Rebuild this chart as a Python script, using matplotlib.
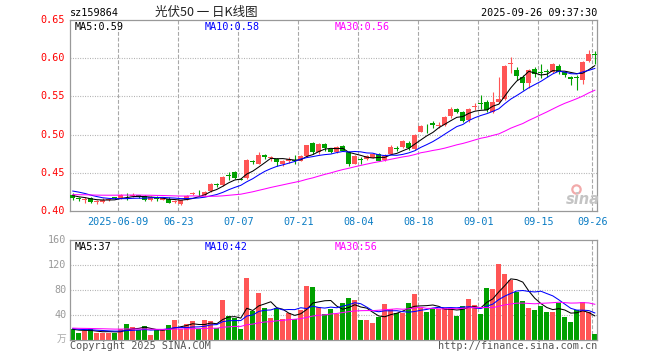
import matplotlib
matplotlib.use('Agg')
import matplotlib.pyplot as plt
import matplotlib.transforms as mtrans
import numpy as np
import pandas as pd

# ---------------- data ----------------
code = 'sz159864'
title = '光伏50 一 日K线图'
stamp = '2025-09-26 09:37:30'

dates = [d for d in pd.bdate_range('2025-05-27', '2025-09-26')
         if d.strftime('%Y-%m-%d') != '2025-06-02']

open_ = [0.421, 0.417, 0.415, 0.417, 0.412, 0.412, 0.415, 0.418, 0.417, 0.420,
         0.419, 0.421, 0.420, 0.415, 0.417, 0.415, 0.416, 0.412, 0.409, 0.415,
         0.422, 0.424, 0.421, 0.426, 0.435, 0.434, 0.447, 0.451, 0.442, 0.443,
         0.465, 0.462, 0.473, 0.469, 0.468, 0.461, 0.465, 0.467, 0.466, 0.472,
         0.489, 0.477, 0.488, 0.481, 0.477, 0.485, 0.477, 0.462, 0.468, 0.468,
         0.470, 0.475, 0.467, 0.475, 0.482, 0.484, 0.489, 0.481, 0.504, 0.509,
         0.515, 0.511, 0.512, 0.524, 0.534, 0.530, 0.519, 0.536, 0.541, 0.543,
         0.530, 0.543, 0.547, 0.592, 0.585, 0.576, 0.568, 0.586, 0.582, 0.583,
         0.582, 0.590, 0.582, 0.576, 0.575, 0.572, 0.596, 0.605]
high = [0.423, 0.418, 0.418, 0.418, 0.414, 0.417, 0.417, 0.418, 0.422, 0.423,
        0.424, 0.421, 0.421, 0.419, 0.419, 0.418, 0.418, 0.414, 0.415, 0.421,
        0.425, 0.427, 0.426, 0.436, 0.436, 0.446, 0.451, 0.452, 0.443, 0.468,
        0.467, 0.477, 0.474, 0.472, 0.469, 0.467, 0.471, 0.473, 0.473, 0.487,
        0.490, 0.489, 0.489, 0.482, 0.485, 0.487, 0.478, 0.473, 0.471, 0.473,
        0.475, 0.476, 0.474, 0.486, 0.485, 0.493, 0.491, 0.501, 0.513, 0.514,
        0.518, 0.516, 0.525, 0.536, 0.535, 0.531, 0.535, 0.541, 0.552, 0.545,
        0.556, 0.575, 0.591, 0.602, 0.588, 0.578, 0.586, 0.589, 0.593, 0.586,
        0.594, 0.592, 0.583, 0.577, 0.578, 0.596, 0.611, 0.609]
low = [0.414, 0.413, 0.411, 0.411, 0.409, 0.410, 0.413, 0.416, 0.416, 0.415,
       0.418, 0.417, 0.413, 0.413, 0.413, 0.414, 0.410, 0.411, 0.408, 0.414,
       0.421, 0.419, 0.420, 0.425, 0.432, 0.433, 0.441, 0.442, 0.440, 0.442,
       0.461, 0.461, 0.468, 0.466, 0.459, 0.459, 0.463, 0.462, 0.465, 0.471,
       0.475, 0.475, 0.479, 0.476, 0.476, 0.478, 0.459, 0.461, 0.462, 0.467,
       0.469, 0.465, 0.466, 0.474, 0.478, 0.483, 0.480, 0.480, 0.503, 0.502,
       0.509, 0.509, 0.511, 0.522, 0.528, 0.517, 0.516, 0.532, 0.533, 0.530,
       0.528, 0.541, 0.545, 0.580, 0.572, 0.558, 0.561, 0.576, 0.574, 0.576,
       0.580, 0.579, 0.575, 0.565, 0.559, 0.566, 0.595, 0.593]
close = [0.417, 0.416, 0.416, 0.412, 0.413, 0.415, 0.416, 0.417, 0.421, 0.419,
         0.421, 0.418, 0.415, 0.418, 0.416, 0.417, 0.411, 0.413, 0.414, 0.420,
         0.424, 0.423, 0.425, 0.435, 0.434, 0.445, 0.446, 0.443, 0.441, 0.467,
         0.464, 0.473, 0.471, 0.470, 0.464, 0.465, 0.468, 0.466, 0.472, 0.486,
         0.477, 0.488, 0.482, 0.477, 0.484, 0.479, 0.462, 0.472, 0.467, 0.472,
         0.474, 0.466, 0.472, 0.484, 0.481, 0.491, 0.482, 0.500, 0.511, 0.508,
         0.513, 0.513, 0.523, 0.534, 0.530, 0.518, 0.534, 0.537, 0.540, 0.532,
         0.543, 0.547, 0.590, 0.594, 0.577, 0.568, 0.585, 0.579, 0.581, 0.582,
         0.592, 0.582, 0.578, 0.573, 0.574, 0.595, 0.605, 0.604]
volume = [17, 11, 14, 17, 12, 12, 12, 12, 18, 26,
          21, 16, 22, 8, 16, 16, 24, 32, 18, 26,
          30, 18, 32, 30, 20, 64, 38, 35, 18, 99,
          46, 75, 51, 35, 51, 34, 44, 33, 48, 86,
          85, 53, 42, 50, 41, 60, 67, 64, 32, 32,
          27, 37, 58, 49, 43, 44, 60, 74, 52, 45,
          49, 49, 51, 52, 39, 54, 66, 56, 42, 83,
          82, 122, 106, 96, 77, 62, 51, 48, 54, 45,
          45, 59, 37, 29, 48, 61, 45, 10]

# closes / volumes before the visible window (needed for the moving averages)
prior_close = [0.417, 0.419, 0.418, 0.420, 0.418, 0.417, 0.416, 0.418, 0.419, 0.418,
               0.419, 0.421, 0.420, 0.422, 0.420, 0.419, 0.421, 0.420, 0.419, 0.419,
               0.430, 0.433, 0.434, 0.432, 0.431, 0.424, 0.421, 0.420, 0.419]
prior_vol = [20, 18, 22, 19, 17, 21, 20, 18, 19, 23,
             18, 17, 20, 22, 19, 18, 21, 17, 19, 20,
             22, 18, 19, 20, 17, 18, 16, 17, 18]

tick_dates = ['2025-06-09', '2025-06-23', '2025-07-07', '2025-07-21', '2025-08-04',
              '2025-08-18', '2025-09-01', '2025-09-15', '2025-09-26']
price_ticks = [0.40, 0.45, 0.50, 0.55, 0.60, 0.65]
vol_ticks = [40, 80, 120, 160]
ma_periods = [5, 10, 30]
ma_colors = ['#000000', '#0000ff', '#ff00ff']
ma_price_labels = ['MA5:0.59', 'MA10:0.58', 'MA30:0.56']
ma_vol_labels = ['MA5:37', 'MA10:42', 'MA30:56']

# ---------------- helpers ----------------
W, H = 660, 360
MONO = 'DejaVu Sans Mono'
FS = 7.3
RED = '#ff5555'
GREEN = '#00a000'
GRID = '#a8a8a8'

n = len(close)
idx = np.arange(n)
bw = 0.83
cx = idx + bw / 2


def ma(prior, vals, p):
    s = pd.Series(list(prior) + list(vals), dtype=float)
    return s.rolling(p).mean().to_numpy()[len(prior):]


fig = plt.figure(figsize=(W / 100, H / 100), dpi=100)
fig.patch.set_facecolor('white')


def ftext(x, y, s, **kw):
    kw.setdefault('family', MONO)
    kw.setdefault('fontsize', FS)
    kw.setdefault('va', 'center')
    fig.text(x / W, 1 - y / H, s, **kw)


ax = fig.add_axes([70 / W, 149 / H, 527 / W, 191 / H])
axv = fig.add_axes([70 / W, 20 / H, 527 / W, 100 / H])

xlim = (-0.05, 87.78)
tick_pos = [next(i for i, d in enumerate(dates) if d.strftime('%Y-%m-%d') == t)
            for t in tick_dates]

for a in (ax, axv):
    a.set_xlim(*xlim)
    a.set_xticks([])
    a.set_yticks([])
    for sp in a.spines.values():
        sp.set_color('#999999')
        sp.set_linewidth(0.9)
    for p in tick_pos:
        a.axvline(p, color=GRID, lw=0.8, ls=(0, (3.5, 1.6)), zorder=0)

ax.set_ylim(0.40, 0.65)
axv.set_ylim(0, 160)
for t in price_ticks[1:-1]:
    ax.axhline(t, color=GRID, lw=0.8, ls=(0, (0.8, 1.4)), zorder=0)
for t in vol_ticks[:-1]:
    axv.axhline(t, color=GRID, lw=0.8, ls=(0, (0.8, 1.4)), zorder=0)

# candles
for i in range(n):
    o, h, l, c = open_[i], high[i], low[i], close[i]
    col = RED if c >= o else GREEN
    ax.vlines(cx[i], l, h, color=col, lw=0.8, zorder=3)
    if abs(c - o) < 0.0006:
        ax.hlines(c, i, i + bw, color=col, lw=1.0, zorder=4)
    else:
        ax.bar(i, max(abs(c - o), 0.0012), bottom=min(o, c), width=bw,
               align='edge', color=col, lw=0, zorder=4)
    axv.bar(i, volume[i], width=bw, align='edge', color=col, lw=0, zorder=2)

# moving averages
for p, col in zip(ma_periods, ma_colors):
    ax.plot(cx, ma(prior_close, close, p), color=col, lw=0.75, zorder=5)
    axv.plot(cx, ma(prior_vol, volume, p), color=col, lw=0.75, zorder=5)

# y tick labels
for t in price_ticks:
    ax.text(-0.01, t, f'{t:.2f}', transform=mtrans.blended_transform_factory(ax.transAxes, ax.transData),
            ha='right', va='center', color='#ff0000', family=MONO, fontsize=FS, clip_on=False)
for t in vol_ticks:
    axv.text(-0.007, t, f'{t}', transform=mtrans.blended_transform_factory(axv.transAxes, axv.transData),
             ha='right', va='center', color='#999999', family=MONO, fontsize=FS, clip_on=False)
ftext(66, 339, '万', ha='right', color='#aaaaaa', family=['Noto Sans CJK SC', 'DejaVu Sans'], fontsize=7)

# date labels
bt = mtrans.blended_transform_factory(ax.transData, fig.transFigure)
for k, (p, t) in enumerate(zip(tick_pos, tick_dates)):
    lab = t if k == 0 else t[5:]
    ax.text(p, 1 - 222 / H, lab, transform=bt, ha='center', va='center',
            color='#0a7cc4', family=MONO, fontsize=FS, clip_on=False)

# header texts
ftext(70, 13, code, ha='left', color='#000000')
ftext(206.5, 12.5, title, ha='center', color='#222222',
      family=['Noto Sans CJK SC', 'DejaVu Sans'], fontsize=9)
ftext(597.5, 12.5, stamp, ha='right', color='#000000')

for x, s, col in zip([75, 205, 335], ma_price_labels, ma_colors):
    ftext(x, 26.5, s, ha='left', color=col)
for x, s, col in zip([75, 205, 335], ma_vol_labels, ma_colors):
    ftext(x, 246.5, s, ha='left', color=col)

ftext(69.5, 346, 'Copyright 2025 SINA.COM', ha='left', color='#555555')
ftext(597.5, 346, 'http://finance.sina.com.cn', ha='right', color='#555555')

# sina watermark
ftext(583, 199, 'sina', ha='center', color='#c4c4c4', family='DejaVu Sans',
      fontsize=10.5, fontweight='bold', style='italic')
fig.lines.append(plt.Line2D([576 / W], [1 - 189 / H], transform=fig.transFigure,
                            marker='o', ms=6, mfc='none', mec='#f2aaaa', mew=1.6, ls='none'))

fig.savefig('out.png', dpi=100, facecolor='white')
